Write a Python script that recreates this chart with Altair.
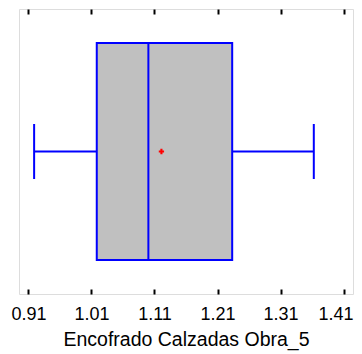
import altair as alt
import pandas as pd

# Box-plot statistics
variable = ["Encofrado Calzadas Obra_5"]
minimum = [0.919]
q1 = [1.0184]
median = [1.1003]
mean = [1.121]
q3 = [1.2333]
maximum = [1.3628]
tick_values = [0.91, 1.01, 1.11, 1.21, 1.31, 1.41]
x_domain = [0.895, 1.425]

df = pd.DataFrame({
    "var": variable, "min": minimum, "q1": q1, "median": median,
    "mean": mean, "q3": q3, "max": maximum,
})

BLUE = "#0000FF"
xscale = alt.Scale(domain=x_domain, nice=False, zero=False)
ycat = alt.Y("var:N", axis=None)

base = alt.Chart(df)

x_bottom = alt.Axis(
    orient="bottom", values=tick_values, format=".2f", domain=False, grid=False,
    offset=-5, tickSize=5, tickColor="black", tickWidth=2,
    labelFont="Liberation Sans", labelFontSize=18, labelColor="black", labelPadding=11,
    labelOverlap=False, labelBound=False, labelFlush=False,
    labelOffset={"condition": {"test": "datum.value > 1.4", "value": -8}, "value": 0},
    title="Encofrado Calzadas Obra_5", titleFont="Liberation Sans", titleFontSize=19.5,
    titleFontWeight="normal", titleColor="black", titlePadding=7,
)
x_top = alt.Axis(
    orient="top", values=tick_values, labels=False, domain=False, grid=False,
    offset=-5, tickSize=5, tickColor="black", tickWidth=2, title=None)

whisker_lo = base.mark_rule(color=BLUE, strokeWidth=2).encode(
    x=alt.X("min:Q", scale=xscale, axis=x_bottom), x2="q1:Q", y=ycat)
whisker_hi = base.mark_rule(color=BLUE, strokeWidth=2).encode(
    x=alt.X("q3:Q", scale=xscale, axis=None), x2="max:Q", y=ycat)
cap_lo = base.mark_tick(color=BLUE, size=55, thickness=2, opacity=1).encode(
    x=alt.X("min:Q", scale=xscale, axis=None), y=ycat)
cap_hi = base.mark_tick(color=BLUE, size=55, thickness=2, opacity=1).encode(
    x=alt.X("max:Q", scale=xscale, axis=None), y=ycat)
box = base.mark_bar(fill="#C0C0C0", stroke=BLUE, strokeWidth=2, size=217).encode(
    x=alt.X("q1:Q", scale=xscale, axis=None), x2="q3:Q", y=ycat)
med = base.mark_tick(color=BLUE, size=217, thickness=2, opacity=1).encode(
    x=alt.X("median:Q", scale=xscale, axis=None), y=ycat)
mean_pt = base.mark_point(shape="cross", filled=True, color="red", size=28, opacity=1).encode(
    x=alt.X("mean:Q", scale=xscale, axis=None), y=ycat)

top_axis = base.mark_rule(opacity=0).encode(
    x=alt.X("min:Q", scale=xscale, axis=x_top), y=ycat)

chart = alt.layer(
    top_axis, whisker_lo, whisker_hi, cap_lo, cap_hi, box, med, mean_pt
).resolve_axis(x="independent").properties(
    width=334, height=285,
    autosize=alt.AutoSizeParams(type="none"),
    padding={"left": 11, "top": 1, "right": 1, "bottom": 60},
).configure_view(stroke="black", strokeWidth=2).configure(background="white")

chart.save("out.html", embed_options={"renderer": "svg", "actions": False})
